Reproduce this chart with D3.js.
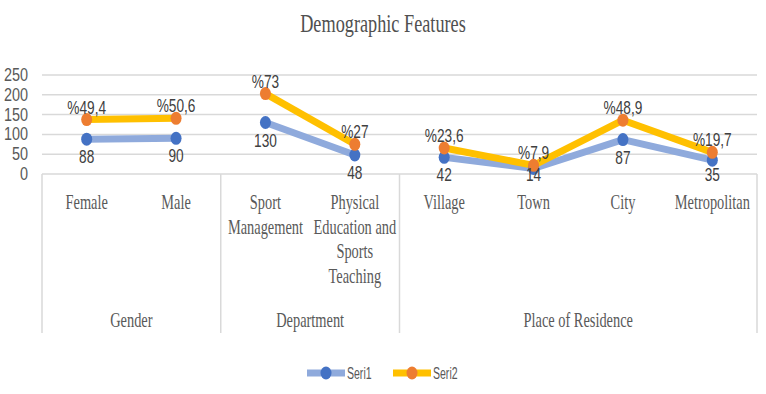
<!DOCTYPE html>
<html>
<head>
<meta charset="utf-8">
<script src="https://cdn.jsdelivr.net/npm/d3@7"></script>
<style>
  body { margin: 0; background: #fff; }
  svg { display: block; }
</style>
</head>
<body>
<div id="chart"></div>
<script>
// chart data
var categories = ["Female", "Male", "Sport Management", "Physical Education and Sports Teaching",
                  "Village", "Town", "City", "Metropolitan"];
var categoryLines = [["Female"], ["Male"], ["Sport", "Management"],
                     ["Physical", "Education and", "Sports", "Teaching"],
                     ["Village"], ["Town"], ["City"], ["Metropolitan"]];
var groupNames = ["Gender", "Department", "Place of Residence"];
var groupSizes = [2, 2, 4];
var seri1 = [88, 90, 130, 48, 42, 14, 87, 35];
var seri2 = [49.4, 50.6, 73, 27, 23.6, 7.9, 48.9, 19.7];
var seri2Labels = ["%49,4", "%50,6", "%73", "%27", "%23,6", "%7,9", "%48,9", "%19,7"];
var yTicks = [0, 50, 100, 150, 200, 250];
var seriesNames = ["Seri1", "Seri2"];

var W = 766, H = 394;
var SQ = 0.72; // text in the picture is squeezed sideways

var svg = d3.select("#chart").append("svg")
  .attr("width", W)
  .attr("height", H);

var x = d3.scaleBand().domain(categories).range([42, 757]);
var y = d3.scaleLinear().domain([0, 250]).range([174, 75]);

// stacked line values
var rows = categories.map(function(c, i) { return { cat: c, Seri1: seri1[i], Seri2: seri2[i] }; });
var stacked = d3.stack().keys(seriesNames)(rows);

function squeezed(sel, tx, ty, str, k) {
  return sel.append("text")
    .attr("transform", "translate(" + tx + "," + ty + ") scale(" + k + ",1)")
    .text(str);
}

// title
squeezed(svg, 383, 32, "Demographic Features", 0.73)
  .attr("text-anchor", "middle")
  .attr("font-family", "Liberation Serif, Times New Roman, serif")
  .attr("font-size", 25)
  .attr("fill", "#505050");

// gridlines
svg.append("g").selectAll("line")
  .data(yTicks)
  .enter().append("line")
  .attr("x1", 42).attr("x2", 757)
  .attr("y1", function(d) { return y(d); })
  .attr("y2", function(d) { return y(d); })
  .attr("stroke", "#d9d9d9")
  .attr("stroke-width", 1.5);

// y labels
var yl = svg.append("g")
  .attr("font-family", "Liberation Sans, Arial, sans-serif")
  .attr("font-size", 19)
  .attr("fill", "#595959")
  .attr("text-anchor", "end");
yTicks.forEach(function(t) {
  squeezed(yl, 28, y(t) + 6, t, 0.76);
});

// category axis with group dividers
var bottom = 333;
var edges = [0];
groupSizes.forEach(function(n, i) { edges.push(edges[i] + n); });
var edgeX = function(i) { return i < categories.length ? x(categories[i]) : x.range()[1]; };

svg.append("g").selectAll("line")
  .data(edges)
  .enter().append("line")
  .attr("x1", function(d) { return edgeX(d); })
  .attr("x2", function(d) { return edgeX(d); })
  .attr("y1", y(0)).attr("y2", bottom)
  .attr("stroke", "#d9d9d9")
  .attr("stroke-width", 1.5);

var xl = svg.append("g")
  .attr("font-family", "Liberation Serif, Times New Roman, serif")
  .attr("font-size", 20)
  .attr("fill", "#595959")
  .attr("text-anchor", "middle");
categories.forEach(function(c, i) {
  var cx = x(c) + x.bandwidth() / 2;
  categoryLines[i].forEach(function(line, j) {
    squeezed(xl, cx, 209 + j * 24.5, line, SQ);
  });
});
groupNames.forEach(function(g, i) {
  var gx = (edgeX(edges[i]) + edgeX(edges[i + 1])) / 2;
  squeezed(xl, gx, 327, g, SQ);
});

// lines and markers
var lineColors = ["#8faadc", "#ffc000"];
var markColors = ["#4472c4", "#ed7d31"];
var cxOf = function(i) { return x(categories[i]) + x.bandwidth() / 2; };

// each group is drawn as its own line segment
stacked.forEach(function(s, k) {
  var start = 0;
  groupSizes.forEach(function(n) {
    var idx = d3.range(start, start + n);
    start += n;
    svg.append("path")
      .attr("fill", "none")
      .attr("stroke", lineColors[k])
      .attr("stroke-width", 7)
      .attr("stroke-linejoin", "round")
      .attr("d", d3.line()
        .x(function(d) { return cxOf(d); })
        .y(function(d) { return y(s[d][1]); })(idx));
  });
});

stacked.forEach(function(s, k) {
  svg.append("g").selectAll("ellipse")
    .data(s)
    .enter().append("ellipse")
    .attr("cx", function(d, i) { return cxOf(i); })
    .attr("cy", function(d) { return y(d[1]); })
    .attr("rx", 5.5)
    .attr("ry", 6.5)
    .attr("fill", markColors[k]);
});

// data labels
var dl = svg.append("g")
  .attr("font-family", "Liberation Sans, Arial, sans-serif")
  .attr("font-size", 18)
  .attr("fill", "#404040")
  .attr("text-anchor", "middle");
stacked[0].forEach(function(d, i) {
  squeezed(dl, cxOf(i), Math.min(y(d[1]) + 24, 181), seri1[i], 0.76);
});
stacked[1].forEach(function(d, i) {
  squeezed(dl, cxOf(i), y(d[1]) - 6, seri2Labels[i], 0.76);
});

// legend
var lg = svg.append("g");
var legendX = [307, 393];
seriesNames.forEach(function(n, k) {
  var lx = legendX[k];
  lg.append("line")
    .attr("x1", lx).attr("x2", lx + 38)
    .attr("y1", 373).attr("y2", 373)
    .attr("stroke", lineColors[k])
    .attr("stroke-width", 7);
  lg.append("ellipse")
    .attr("cx", lx + 19).attr("cy", 373)
    .attr("rx", 5.5).attr("ry", 6.5)
    .attr("fill", markColors[k]);
  squeezed(lg, lx + 40, 379, n, 0.62)
    .attr("font-family", "Liberation Sans, Arial, sans-serif")
    .attr("font-size", 17)
    .attr("fill", "#595959");
});
</script>
</body>
</html>
